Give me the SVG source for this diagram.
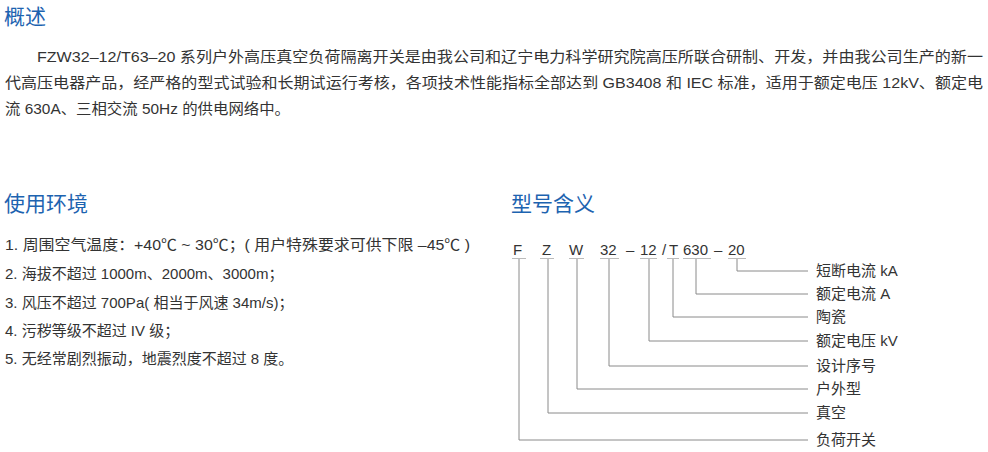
<svg xmlns="http://www.w3.org/2000/svg" width="988" height="452" viewBox="0 0 988 452">
<style>
.h{font-family:"Noto Sans CJK SC","Liberation Sans",sans-serif;font-size:21px;fill:#1d63b0}
.t{font-family:"Liberation Sans","Noto Sans CJK SC",sans-serif;font-size:15px;fill:#333}
.c{font-family:"Liberation Sans",sans-serif;font-size:15px;fill:#333}
.ln{stroke:#8a8a8a;stroke-width:1;fill:none}
.u{stroke:#bbb;stroke-width:1}
</style>
<rect width="988" height="452" fill="#fff"/>
<text class="h" x="4" y="24">概述</text>
<text class="t" x="37" y="62" textLength="946" lengthAdjust="spacingAndGlyphs">FZW32–12/T63–20 系列户外高压真空负荷隔离开关是由我公司和辽宁电力科学研究院高压所联合研制、开发，并由我公司生产的新一</text>
<text class="t" x="5" y="88" textLength="978" lengthAdjust="spacingAndGlyphs">代高压电器产品，经严格的型式试验和长期试运行考核，各项技术性能指标全部达到 GB3408 和 IEC 标准，适用于额定电压 12kV、额定电</text>
<text class="t" x="5" y="114" textLength="285" lengthAdjust="spacingAndGlyphs">流 630A、三相交流 50Hz 的供电网络中。</text>
<text class="h" x="4" y="211">使用环境</text>
<text class="h" x="511" y="211">型号含义</text>
<text class="t" x="5" y="250" textLength="465" lengthAdjust="spacingAndGlyphs">1. 周围空气温度：+40℃ ~ 30℃；( 用户特殊要求可供下限 –45℃ )</text>
<text class="t" x="5" y="279">2. 海拔不超过 1000m、2000m、3000m；</text>
<text class="t" x="5" y="308">3. 风压不超过 700Pa( 相当于风速 34m/s)；</text>
<text class="t" x="5" y="336">4. 污秽等级不超过 IV 级；</text>
<text class="t" x="5" y="364">5. 无经常剧烈振动，地震烈度不超过 8 度。</text>
<g id="code">
<text class="c" x="513" y="255">F</text>
<text class="c" x="542" y="255">Z</text>
<text class="c" x="569" y="255">W</text>
<text class="c" x="600" y="255">32</text>
<text class="c" x="626" y="255">–</text>
<text class="c" x="640" y="255">12</text>
<text class="c" x="662" y="255">/</text>
<text class="c" x="669" y="255">T</text>
<text class="c" x="683" y="255">630</text>
<text class="c" x="714" y="255">–</text>
<text class="c" x="728" y="255">20</text>
<path class="u" d="M512 258.5h14M540 258.5h14M569 258.5h15M600 258.5h19M640 258.5h17M667 258.5h12M683 258.5h28M728 258.5h18"/>
</g>
<g id="connectors">
<path class="ln" d="M737 259V271H808M696 259V294H808M673 259V317H808M649 259V341H808M609 259V366H808M577 259V389H808M548 259V413H808M519 259V440H808"/>
</g>
<g id="labels">
<text class="t" x="816" y="276">短断电流 kA</text>
<text class="t" x="816" y="299">额定电流 A</text>
<text class="t" x="816" y="322">陶瓷</text>
<text class="t" x="816" y="346">额定电压 kV</text>
<text class="t" x="816" y="371">设计序号</text>
<text class="t" x="816" y="394">户外型</text>
<text class="t" x="816" y="418">真空</text>
<text class="t" x="816" y="445">负荷开关</text>
</g>
</svg>
